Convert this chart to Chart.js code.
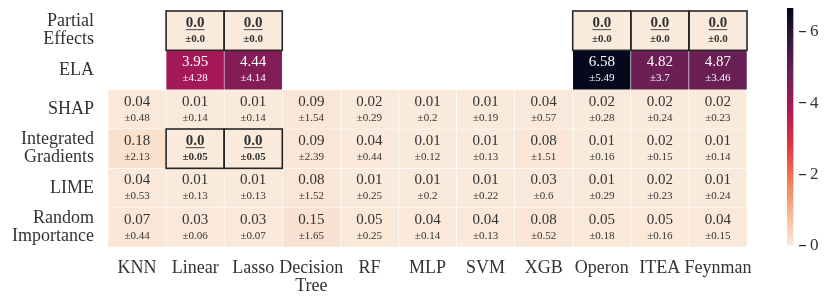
<!DOCTYPE html>
<html>
<head>
<meta charset="utf-8">
<script src="https://cdn.jsdelivr.net/npm/chart.js@4.4.0/dist/chart.umd.min.js"></script>
<style>
  html, body { margin: 0; padding: 0; background: #fff; }
  #wrap { position: relative; width: 831px; height: 305px; }
  #heat { position: absolute; left: 0; top: 0; }
  #cbar { position: absolute; left: 770px; top: 0; }
</style>
</head>
<body>
<div id="wrap">
  <canvas id="heat" width="831" height="305"></canvas>
  <canvas id="cbar" width="61" height="305"></canvas>
</div>
<script>
// heatmap of mean importance error (± std) per explainer and model
const colLabels = ['KNN', 'Linear', 'Lasso', ['Decision', 'Tree'], 'RF', 'MLP', 'SVM', 'XGB', 'Operon', 'ITEA', 'Feynman'];
const rowLabels = [['Partial', 'Effects'], 'ELA', 'SHAP', ['Integrated', 'Gradients'], 'LIME', ['Random', 'Importance']];

// null = not available for that model
const peMean   = [null, 0.0, 0.0, null, null, null, null, null, 0.0, 0.0, 0.0];
const peSd     = [null, 0.0, 0.0, null, null, null, null, null, 0.0, 0.0, 0.0];
const elaMean  = [null, 3.95, 4.44, null, null, null, null, null, 6.58, 4.82, 4.87];
const elaSd    = [null, 4.28, 4.14, null, null, null, null, null, 5.49, 3.7, 3.46];
const shapMean = [0.04, 0.01, 0.01, 0.09, 0.02, 0.01, 0.01, 0.04, 0.02, 0.02, 0.02];
const shapSd   = [0.48, 0.14, 0.14, 1.54, 0.29, 0.2, 0.19, 0.57, 0.28, 0.24, 0.23];
const igMean   = [0.18, 0.0, 0.0, 0.09, 0.04, 0.01, 0.01, 0.08, 0.01, 0.02, 0.01];
const igSd     = [2.13, 0.05, 0.05, 2.39, 0.44, 0.12, 0.13, 1.51, 0.16, 0.15, 0.14];
const limeMean = [0.04, 0.01, 0.01, 0.08, 0.01, 0.01, 0.01, 0.03, 0.01, 0.02, 0.01];
const limeSd   = [0.53, 0.13, 0.13, 1.52, 0.25, 0.2, 0.22, 0.6, 0.29, 0.23, 0.24];
const randMean = [0.07, 0.03, 0.03, 0.15, 0.05, 0.04, 0.04, 0.08, 0.05, 0.05, 0.04];
const randSd   = [0.44, 0.06, 0.07, 1.65, 0.25, 0.14, 0.13, 0.52, 0.18, 0.16, 0.15];

// best (boxed, bold) cells as [row, col]
const bestCells = [[0, 1], [0, 2], [0, 8], [0, 9], [0, 10], [3, 1], [3, 2]];

const cbTicks = [0, 2, 4, 6];
const cbMax = 6.66;

const meanRows = [peMean, elaMean, shapMean, igMean, limeMean, randMean];
const sdRows = [peSd, elaSd, shapSd, igSd, limeSd, randSd];

// seaborn "rocket" sampled from dark to light
const rocket = ['#03051a', '#35193e', '#701f57', '#ad1759', '#e13342', '#f37651', '#f6b48f', '#faebdd'];
const FONT = "'Liberation Serif', 'DejaVu Serif', serif";
const INK = '#333333';

function hexRgb(h) {
  return [1, 3, 5].map(i => parseInt(h.slice(i, i + 2), 16));
}

function rocketRgb(v) {
  const t = 1 - Math.min(1, Math.max(0, v / cbMax));
  const pos = t * (rocket.length - 1);
  const i = Math.min(rocket.length - 2, Math.floor(pos));
  const f = pos - i;
  const a = hexRgb(rocket[i]), b = hexRgb(rocket[i + 1]);
  return a.map((x, k) => x + (b[k] - x) * f);
}

// reversed rocket: 0 -> light, cbMax -> dark
function colorFor(v) {
  const c = rocketRgb(v).map(Math.round);
  return `rgb(${c[0]},${c[1]},${c[2]})`;
}

function textColorFor(v) {
  const c = rocketRgb(v).map(x => x / 255);
  const lin = c.map(x => x <= 0.03928 ? x / 12.92 : Math.pow((x + 0.055) / 1.055, 2.4));
  const lum = 0.2126 * lin[0] + 0.7152 * lin[1] + 0.0722 * lin[2];
  return lum < 0.408 ? '#ffffff' : INK;
}

function fmt(v) {
  const s = String(Math.round(v * 100) / 100);
  return s.includes('.') ? s : s + '.0';
}

const isBest = (r, c) => bestCells.some(b => b[0] === r && b[1] === c);

const datasets = meanRows.map((row, r) => ({
  label: Array.isArray(rowLabels[r]) ? rowLabels[r].join(' ') : rowLabels[r],
  data: row.map(v => v === null ? null : [r - 0.5, r + 0.5]),
  backgroundColor: row.map(v => v === null ? 'rgba(0,0,0,0)' : colorFor(v)),
  borderColor: '#ffffff',
  borderWidth: 0.6,
  borderSkipped: false,
  grouped: false,
  barPercentage: 1,
  categoryPercentage: 1
}));

// draws the cell annotations and the boxes around the best cells
const annotate = {
  id: 'annotate',
  afterDatasetsDraw(chart) {
    const { ctx, scales: { x, y } } = chart;
    const cw = x.getPixelForValue(1) - x.getPixelForValue(0);
    const rh = Math.abs(y.getPixelForValue(0.5) - y.getPixelForValue(-0.5));
    ctx.save();
    ctx.textAlign = 'center';
    ctx.textBaseline = 'middle';
    meanRows.forEach((row, r) => {
      row.forEach((v, c) => {
        if (v === null) return;
        const cx = x.getPixelForValue(c);
        const cy = y.getPixelForValue(r);
        const best = isBest(r, c);
        const col = textColorFor(v);
        ctx.fillStyle = col;
        ctx.font = (best ? 'bold ' : '') + '15px ' + FONT;
        const txt = fmt(v);
        ctx.fillText(txt, cx, cy - 7.5);
        if (best) {
          const w = ctx.measureText(txt).width;
          ctx.strokeStyle = col;
          ctx.lineWidth = 0.9;
          ctx.beginPath();
          ctx.moveTo(cx - w / 2, cy - 1);
          ctx.lineTo(cx + w / 2, cy - 1);
          ctx.stroke();
        }
        ctx.font = (best ? 'bold ' : '') + '11px ' + FONT;
        ctx.fillText('±' + fmt(sdRows[r][c]), cx, cy + 8.5);
      });
    });
    ctx.strokeStyle = '#262626';
    ctx.lineWidth = 1.6;
    bestCells.forEach(([r, c]) => {
      const cx = x.getPixelForValue(c);
      const cy = y.getPixelForValue(r);
      ctx.strokeRect(cx - cw / 2, cy - rh / 2, cw, rh);
    });
    ctx.restore();
  }
};

new Chart(document.getElementById('heat').getContext('2d'), {
  type: 'bar',
  data: { labels: colLabels, datasets },
  plugins: [annotate],
  options: {
    responsive: false,
    animation: false,
    layout: { autoPadding: false, padding: { top: 11, right: 84, bottom: 0, left: 0 } },
    plugins: { legend: { display: false }, tooltip: { enabled: false } },
    scales: {
      x: {
        type: 'category',
        offset: true,
        grid: { display: false, drawTicks: false },
        border: { display: false },
        ticks: {
          color: INK, padding: 12, autoSkip: false, maxRotation: 0,
          font: { family: FONT, size: 18, lineHeight: 1.02 }
        },
        afterFit: s => { s.height = 58; s.paddingLeft = 0; s.paddingRight = 0; }
      },
      y: {
        type: 'linear',
        reverse: true,
        min: -0.5,
        max: rowLabels.length - 0.5,
        grid: { display: false, drawTicks: false },
        border: { display: false },
        afterBuildTicks: s => { s.ticks = rowLabels.map((_, i) => ({ value: i })); },
        ticks: {
          color: INK, padding: 14,
          font: { family: FONT, size: 18, lineHeight: 1.0 },
          callback: v => rowLabels[v]
        },
        afterFit: s => { s.width = 108; s.paddingTop = 0; s.paddingBottom = 0; }
      }
    }
  }
});

// colour bar as a single floating bar filled with the colormap
new Chart(document.getElementById('cbar').getContext('2d'), {
  type: 'bar',
  data: {
    labels: [''],
    datasets: [{
      data: [[0, cbMax]],
      barPercentage: 1,
      categoryPercentage: 1,
      borderWidth: 0,
      backgroundColor(ctx) {
        const a = ctx.chart.chartArea;
        if (!a) return '#faebdd';
        const g = ctx.chart.ctx.createLinearGradient(0, a.bottom, 0, a.top);
        rocket.slice().reverse().forEach((c, i) => g.addColorStop(i / (rocket.length - 1), c));
        return g;
      }
    }]
  },
  options: {
    responsive: false,
    animation: false,
    layout: { autoPadding: false, padding: { top: 8, right: 0, bottom: 59, left: 17 } },
    plugins: { legend: { display: false }, tooltip: { enabled: false } },
    scales: {
      x: { display: false, offset: false },
      y: {
        position: 'right',
        min: 0,
        max: cbMax,
        afterBuildTicks: s => { s.ticks = cbTicks.map(v => ({ value: v })); },
        grid: { drawOnChartArea: false, drawTicks: true, tickLength: 7, color: '#262626', lineWidth: 1.2 },
        border: { display: false },
        ticks: { color: INK, padding: 4, font: { family: FONT, size: 17 } },
        afterFit: s => { s.width = 32; s.paddingTop = 0; s.paddingBottom = 0; }
      }
    }
  }
});
</script>
</body>
</html>
